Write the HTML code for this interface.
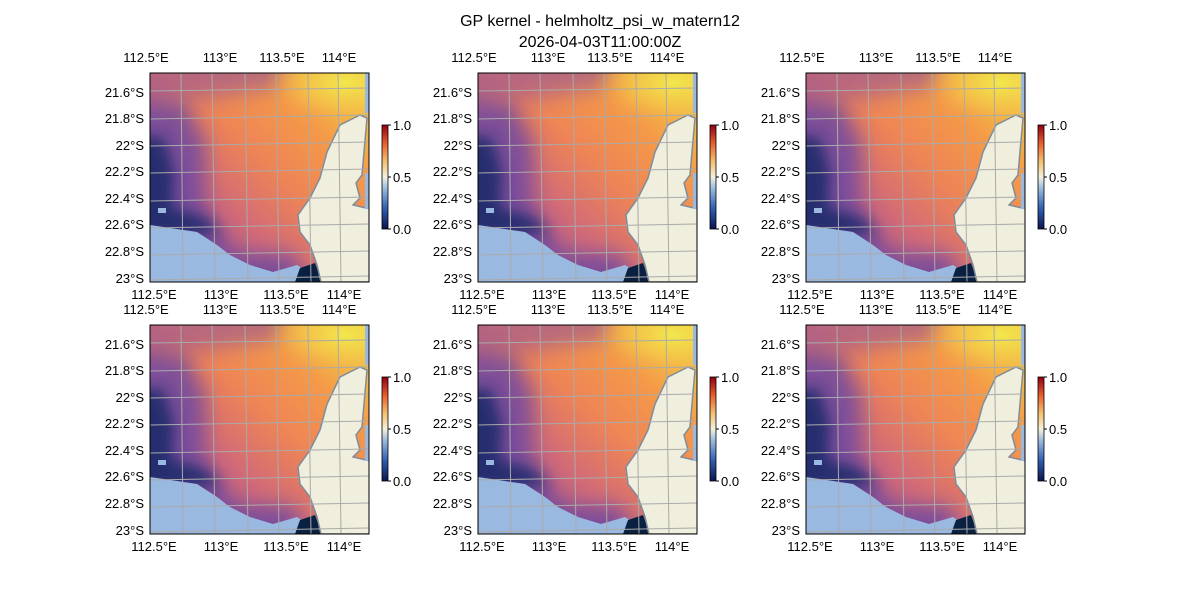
<!DOCTYPE html>
<html><head><meta charset="utf-8"><style>
body{margin:0;background:#fff;width:1200px;height:600px;overflow:hidden;font-family:"Liberation Sans",sans-serif;}
svg text{font-family:"Liberation Sans",sans-serif;font-size:13px;fill:#000}
</style></head><body>
<svg width="1200" height="600" viewBox="0 0 1200 600" xmlns="http://www.w3.org/2000/svg">
<defs>
<linearGradient id="base" x1="0" y1="1" x2="1" y2="0">
<stop offset="0" stop-color="#8a4a98"/>
<stop offset="0.35" stop-color="#d06a78"/>
<stop offset="0.55" stop-color="#ee8456"/>
<stop offset="0.75" stop-color="#f49a48"/>
<stop offset="1" stop-color="#f0e048"/>
</linearGradient>
<radialGradient id="yel" cx="0.5" cy="0.5" r="0.5">
<stop offset="0" stop-color="#f2e84c" stop-opacity="1"/>
<stop offset="0.5" stop-color="#f4c848" stop-opacity="0.7"/>
<stop offset="1" stop-color="#f4a048" stop-opacity="0"/>
</radialGradient>
<filter id="bl" x="-20%" y="-20%" width="140%" height="140%"><feGaussianBlur stdDeviation="10"/></filter>
<filter id="bl2" x="-30%" y="-30%" width="160%" height="160%"><feGaussianBlur stdDeviation="7"/></filter>
<linearGradient id="cb" x1="0" y1="1" x2="0" y2="0">
<stop offset="0" stop-color="#0c1450"/>
<stop offset="0.2" stop-color="#3060b0"/>
<stop offset="0.4" stop-color="#a0c0e0"/>
<stop offset="0.5" stop-color="#f4f0dc"/>
<stop offset="0.65" stop-color="#f4c070"/>
<stop offset="0.82" stop-color="#e86030"/>
<stop offset="1" stop-color="#900010"/>
</linearGradient>
<clipPath id="pc"><rect x="0" y="0" width="219" height="209"/></clipPath>
<g id="panel">
<g clip-path="url(#pc)">
<rect x="0" y="0" width="219" height="209" fill="url(#base)"/>
<path d="M-20 -20 L140 -20 L130 15 L60 25 L-20 30Z" fill="#a05a90" opacity="0.7" filter="url(#bl)"/>
<path d="M-20 25 L35 30 L55 70 L55 135 L85 180 L145 182 L160 230 L-20 230Z" fill="#6e4aa0" opacity="0.85" filter="url(#bl)"/>
<path d="M-20 62 L14 65 L24 100 L22 135 L55 145 L70 160 L-20 165Z" fill="#1c2a6a" opacity="0.9" filter="url(#bl2)"/>
<ellipse cx="195" cy="10" rx="80" ry="45" fill="url(#yel)"/>
<path d="M0 152 L47 159 L67 172 L80 182 L100 192 L123 199 L147 192 L160 200 L160 209 L0 209Z" fill="#9ab9e0"/>
<rect x="8" y="135" width="8" height="5" fill="#9ab9e0"/>
<path d="M150 195 L165 190 L172 209 L145 209Z" fill="#0a2040"/>
<path d="M210 42 L217 45 L212 102 L206 110 L210 125 L203 132 L220 136 L220 209 L171 209 L167 192 L160 172 L150 159 L148 142 L160 125 L170 105 L177 79 L190 52 Z" fill="#f0eedc" stroke="#7f8c9c" stroke-width="1.5"/>
<rect x="215" y="0" width="4" height="40" fill="#9ab9e0"/>
<rect x="215" y="100" width="4" height="36" fill="#9ab9e0"/>
<g stroke="#aaa" stroke-width="1" fill="none">
<line x1="0" y1="18" x2="219" y2="15"/><line x1="0" y1="46" x2="219" y2="42"/><line x1="0" y1="73" x2="219" y2="69"/><line x1="0" y1="100" x2="219" y2="96"/><line x1="0" y1="128" x2="219" y2="124"/><line x1="0" y1="155" x2="219" y2="151"/><line x1="0" y1="182" x2="219" y2="178"/><line x1="0" y1="207" x2="219" y2="203"/>
<line x1="31" y1="0" x2="33" y2="209"/><line x1="62" y1="0" x2="65" y2="209"/><line x1="95" y1="0" x2="98" y2="209"/><line x1="126" y1="0" x2="129" y2="209"/><line x1="158" y1="0" x2="161" y2="209"/><line x1="188" y1="0" x2="191" y2="209"/>
</g>
</g>
<rect x="0" y="0" width="219" height="209" fill="none" stroke="#000" stroke-width="1"/>
</g>
<g id="cbar"><rect x="0" y="0" width="6" height="104" fill="url(#cb)" stroke="#000" stroke-width="0.8"/>
<line x1="6" y1="0" x2="9" y2="0" stroke="#000"/><line x1="6" y1="52" x2="9" y2="52" stroke="#000"/><line x1="6" y1="104" x2="9" y2="104" stroke="#000"/></g>
</defs>
<text x="600" y="26" text-anchor="middle" style="font-size:16px">GP kernel - helmholtz_psi_w_matern12</text>
<text x="600" y="47" text-anchor="middle" style="font-size:16px">2026-04-03T11:00:00Z</text>

<use href="#panel" x="150" y="73"/><use href="#panel" x="478" y="73"/><use href="#panel" x="806" y="73"/>
<use href="#cbar" x="382" y="125"/><use href="#cbar" x="710" y="125"/><use href="#cbar" x="1038" y="125"/>
<use href="#panel" x="150" y="325"/><use href="#panel" x="478" y="325"/><use href="#panel" x="806" y="325"/>
<use href="#cbar" x="382" y="377"/><use href="#cbar" x="710" y="377"/><use href="#cbar" x="1038" y="377"/>

<g text-anchor="middle">
<text x="146" y="62">112.5°E</text><text x="220" y="62">113°E</text><text x="282" y="62">113.5°E</text><text x="339" y="62">114°E</text>
<text x="474" y="62">112.5°E</text><text x="548" y="62">113°E</text><text x="610" y="62">113.5°E</text><text x="667" y="62">114°E</text>
<text x="802" y="62">112.5°E</text><text x="876" y="62">113°E</text><text x="938" y="62">113.5°E</text><text x="995" y="62">114°E</text>
<text x="154" y="299">112.5°E</text><text x="221" y="299">113°E</text><text x="286" y="299">113.5°E</text><text x="344" y="299">114°E</text>
<text x="482" y="299">112.5°E</text><text x="549" y="299">113°E</text><text x="614" y="299">113.5°E</text><text x="672" y="299">114°E</text>
<text x="810" y="299">112.5°E</text><text x="877" y="299">113°E</text><text x="942" y="299">113.5°E</text><text x="1000" y="299">114°E</text>
<text x="146" y="314">112.5°E</text><text x="220" y="314">113°E</text><text x="282" y="314">113.5°E</text><text x="339" y="314">114°E</text>
<text x="474" y="314">112.5°E</text><text x="548" y="314">113°E</text><text x="610" y="314">113.5°E</text><text x="667" y="314">114°E</text>
<text x="802" y="314">112.5°E</text><text x="876" y="314">113°E</text><text x="938" y="314">113.5°E</text><text x="995" y="314">114°E</text>
<text x="154" y="551">112.5°E</text><text x="221" y="551">113°E</text><text x="286" y="551">113.5°E</text><text x="344" y="551">114°E</text>
<text x="482" y="551">112.5°E</text><text x="549" y="551">113°E</text><text x="614" y="551">113.5°E</text><text x="672" y="551">114°E</text>
<text x="810" y="551">112.5°E</text><text x="877" y="551">113°E</text><text x="942" y="551">113.5°E</text><text x="1000" y="551">114°E</text>
</g>
<g text-anchor="end">
<text x="144" y="97">21.6°S</text><text x="144" y="123">21.8°S</text><text x="144" y="150">22°S</text><text x="144" y="176">22.2°S</text><text x="144" y="203">22.4°S</text><text x="144" y="229">22.6°S</text><text x="144" y="256">22.8°S</text><text x="144" y="283">23°S</text>
<text x="472" y="97">21.6°S</text><text x="472" y="123">21.8°S</text><text x="472" y="150">22°S</text><text x="472" y="176">22.2°S</text><text x="472" y="203">22.4°S</text><text x="472" y="229">22.6°S</text><text x="472" y="256">22.8°S</text><text x="472" y="283">23°S</text>
<text x="800" y="97">21.6°S</text><text x="800" y="123">21.8°S</text><text x="800" y="150">22°S</text><text x="800" y="176">22.2°S</text><text x="800" y="203">22.4°S</text><text x="800" y="229">22.6°S</text><text x="800" y="256">22.8°S</text><text x="800" y="283">23°S</text>
<text x="144" y="349">21.6°S</text><text x="144" y="375">21.8°S</text><text x="144" y="402">22°S</text><text x="144" y="428">22.2°S</text><text x="144" y="455">22.4°S</text><text x="144" y="481">22.6°S</text><text x="144" y="508">22.8°S</text><text x="144" y="535">23°S</text>
<text x="472" y="349">21.6°S</text><text x="472" y="375">21.8°S</text><text x="472" y="402">22°S</text><text x="472" y="428">22.2°S</text><text x="472" y="455">22.4°S</text><text x="472" y="481">22.6°S</text><text x="472" y="508">22.8°S</text><text x="472" y="535">23°S</text>
<text x="800" y="349">21.6°S</text><text x="800" y="375">21.8°S</text><text x="800" y="402">22°S</text><text x="800" y="428">22.2°S</text><text x="800" y="455">22.4°S</text><text x="800" y="481">22.6°S</text><text x="800" y="508">22.8°S</text><text x="800" y="535">23°S</text>
</g>
<g>
<text x="393" y="130">1.0</text><text x="393" y="182">0.5</text><text x="393" y="234">0.0</text>
<text x="721" y="130">1.0</text><text x="721" y="182">0.5</text><text x="721" y="234">0.0</text>
<text x="1049" y="130">1.0</text><text x="1049" y="182">0.5</text><text x="1049" y="234">0.0</text>
<text x="393" y="382">1.0</text><text x="393" y="434">0.5</text><text x="393" y="486">0.0</text>
<text x="721" y="382">1.0</text><text x="721" y="434">0.5</text><text x="721" y="486">0.0</text>
<text x="1049" y="382">1.0</text><text x="1049" y="434">0.5</text><text x="1049" y="486">0.0</text>
</g>
</svg>
</body></html>
